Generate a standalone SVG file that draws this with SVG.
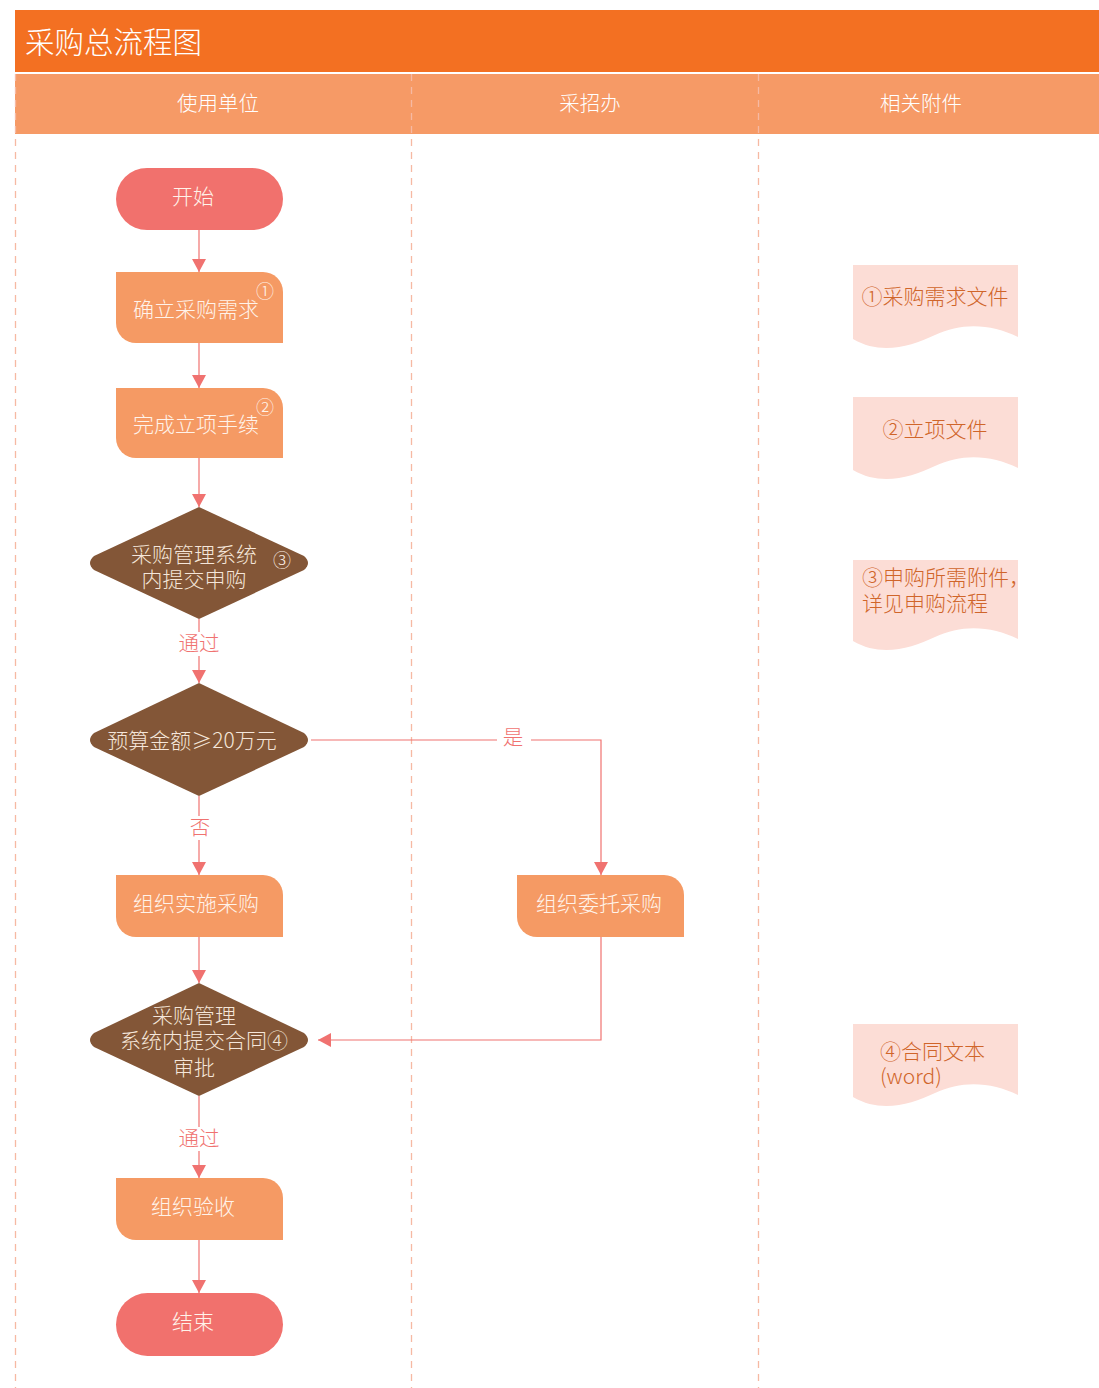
<svg xmlns="http://www.w3.org/2000/svg" width="1099" height="1388" viewBox="0 0 1099 1388">
<style>
text{font-family:"Noto Sans CJK SC","Liberation Sans",sans-serif;font-weight:300;}
.lane{stroke:#F6B9A3;stroke-width:1.3;stroke-dasharray:7,6;fill:none}
.edge{stroke:#F07270;stroke-width:1.2;fill:none}
.term{fill:#F1716D}
.proc{fill:#F59A64}
.dec{fill:#835637}
.doc{fill:#FCDDD6}
.nt{fill:#FFF3EA;font-size:21px}
.dt{fill:#F5E6DA;font-size:21px}
.num{fill:#FFF3EA;font-size:18px}
.lbl{fill:#F07270;font-size:20.5px}
.doct{fill:#D0652A;font-size:21px}
.hd{fill:#FFFFFF;font-size:20.5px}
</style>
<defs>
<marker id="arr" markerUnits="userSpaceOnUse" markerWidth="14" markerHeight="14" refX="13" refY="7" orient="auto">
<path d="M0,0 L13,7 L0,14 Z" fill="#F07270"/>
</marker>
</defs>
<rect width="1099" height="1388" fill="#FFFFFF"/>
<g id="header">
<rect x="15" y="10" width="1084" height="62" fill="#F37022"/>
<text x="25" y="53" fill="#FFFFFF" style="font-size:29.5px">采购总流程图</text>
<rect x="15" y="74" width="1084" height="60" fill="#F69A66"/>
<text class="hd" x="218" y="111" text-anchor="middle">使用单位</text>
<text class="hd" x="590" y="111" text-anchor="middle">采招办</text>
<text class="hd" x="921" y="111" text-anchor="middle">相关附件</text>
</g>
<g id="lanes">
<line class="lane" x1="15.5" y1="74" x2="15.5" y2="1388"/>
<line class="lane" x1="411.5" y1="74" x2="411.5" y2="1388"/>
<line class="lane" x1="758.5" y1="74" x2="758.5" y2="1388"/>
</g>
<g id="connectors">
<line class="edge" x1="199" y1="230" x2="199" y2="272" marker-end="url(#arr)"/>
<line class="edge" x1="199" y1="343" x2="199" y2="388" marker-end="url(#arr)"/>
<line class="edge" x1="199" y1="458" x2="199" y2="507" marker-end="url(#arr)"/>
<line class="edge" x1="199" y1="619" x2="199" y2="632"/>
<line class="edge" x1="199" y1="656" x2="199" y2="683" marker-end="url(#arr)"/>
<line class="edge" x1="199" y1="796" x2="199" y2="816"/>
<line class="edge" x1="199" y1="840" x2="199" y2="875" marker-end="url(#arr)"/>
<polyline class="edge" points="311,740 497,740"/>
<polyline class="edge" points="531,740 601,740 601,875" marker-end="url(#arr)"/>
<line class="edge" x1="199" y1="937" x2="199" y2="983" marker-end="url(#arr)"/>
<polyline class="edge" points="601,937 601,1040 318,1040" marker-end="url(#arr)"/>
<line class="edge" x1="199" y1="1096" x2="199" y2="1127"/>
<line class="edge" x1="199" y1="1151" x2="199" y2="1178" marker-end="url(#arr)"/>
<line class="edge" x1="199" y1="1240" x2="199" y2="1293" marker-end="url(#arr)"/>
<text class="lbl" x="199" y="651" text-anchor="middle">通过</text>
<text class="lbl" x="200" y="835" text-anchor="middle">否</text>
<text class="lbl" x="513" y="745" text-anchor="middle">是</text>
<text class="lbl" x="199" y="1146" text-anchor="middle">通过</text>
</g>
<g id="start">
<rect class="term" x="116" y="168" width="167" height="62" rx="31"/>
<text class="nt" x="193" y="204" text-anchor="middle">开始</text>
</g>
<g id="p1">
<path class="proc" d="M116,272 H263 A20,20 0 0 1 283,292 V343 H136 A20,20 0 0 1 116,323 Z"/>
<text class="nt" x="133" y="317">确立采购需求</text>
<text class="num" x="265" y="298" text-anchor="middle">①</text>
</g>
<g id="p2">
<path class="proc" d="M116,388 H263 A20,20 0 0 1 283,408 V458 H136 A20,20 0 0 1 116,438 Z"/>
<text class="nt" x="133" y="432">完成立项手续</text>
<text class="num" x="265" y="414" text-anchor="middle">②</text>
</g>
<g id="d1">
<path class="dec" d="M199,507 L304,556 Q312,563 304,570 L199,619 L94,570 Q86,563 94,556 Z"/>
<text class="dt" x="194" y="562" text-anchor="middle">采购管理系统</text>
<text class="dt" x="194" y="587" text-anchor="middle">内提交申购</text>
<text class="num" x="282" y="567" text-anchor="middle" fill="#F5E6DA">③</text>
</g>
<g id="d2">
<path class="dec" d="M199,683 L304,733 Q312,740 304,747 L199,796 L94,747 Q86,740 94,733 Z"/>
<text class="dt" x="192" y="748" text-anchor="middle">预算金额≥20万元</text>
</g>
<g id="p3">
<path class="proc" d="M116,875 H263 A20,20 0 0 1 283,895 V937 H136 A20,20 0 0 1 116,917 Z"/>
<text class="nt" x="133" y="911">组织实施采购</text>
</g>
<g id="p4">
<path class="proc" d="M517,875 H664 A20,20 0 0 1 684,895 V937 H537 A20,20 0 0 1 517,917 Z"/>
<text class="nt" x="536" y="911">组织委托采购</text>
</g>
<g id="d3">
<path class="dec" d="M199,983 L304,1033 Q312,1040 304,1047 L199,1096 L94,1047 Q86,1040 94,1033 Z"/>
<text class="dt" x="194" y="1023" text-anchor="middle">采购管理</text>
<text class="dt" x="204" y="1048" text-anchor="middle">系统内提交合同④</text>
<text class="dt" x="194" y="1075" text-anchor="middle">审批</text>
</g>
<g id="p5">
<path class="proc" d="M116,1178 H263 A20,20 0 0 1 283,1198 V1240 H136 A20,20 0 0 1 116,1220 Z"/>
<text class="nt" x="193" y="1214" text-anchor="middle">组织验收</text>
</g>
<g id="end">
<rect class="term" x="116" y="1293" width="167" height="63" rx="31.5"/>
<text class="nt" x="193" y="1329" text-anchor="middle">结束</text>
</g>
<g id="doc1">
<path class="doc" d="M853,265 H1018 V337 C992,324 962,322 935,335 C910,347 880,355 853,339 Z"/>
<text class="doct" x="935" y="304" text-anchor="middle">①采购需求文件</text>
</g>
<g id="doc2">
<path class="doc" d="M853,397 H1018 V468 C992,455 962,453 935,466 C910,478 880,486 853,470 Z"/>
<text class="doct" x="935" y="437" text-anchor="middle">②立项文件</text>
</g>
<g id="doc3">
<path class="doc" d="M853,560 H1018 V639 C992,626 962,624 935,637 C910,649 880,657 853,641 Z"/>
<text class="doct" x="862" y="585">③申购所需附件，</text>
<text class="doct" x="862" y="611">详见申购流程</text>
</g>
<g id="doc4">
<path class="doc" d="M853,1024 H1018 V1095 C992,1082 962,1080 935,1093 C910,1105 880,1113 853,1097 Z"/>
<text class="doct" x="880" y="1059">④合同文本</text>
<text class="doct" x="880" y="1084">(word)</text>
</g>
</svg>
